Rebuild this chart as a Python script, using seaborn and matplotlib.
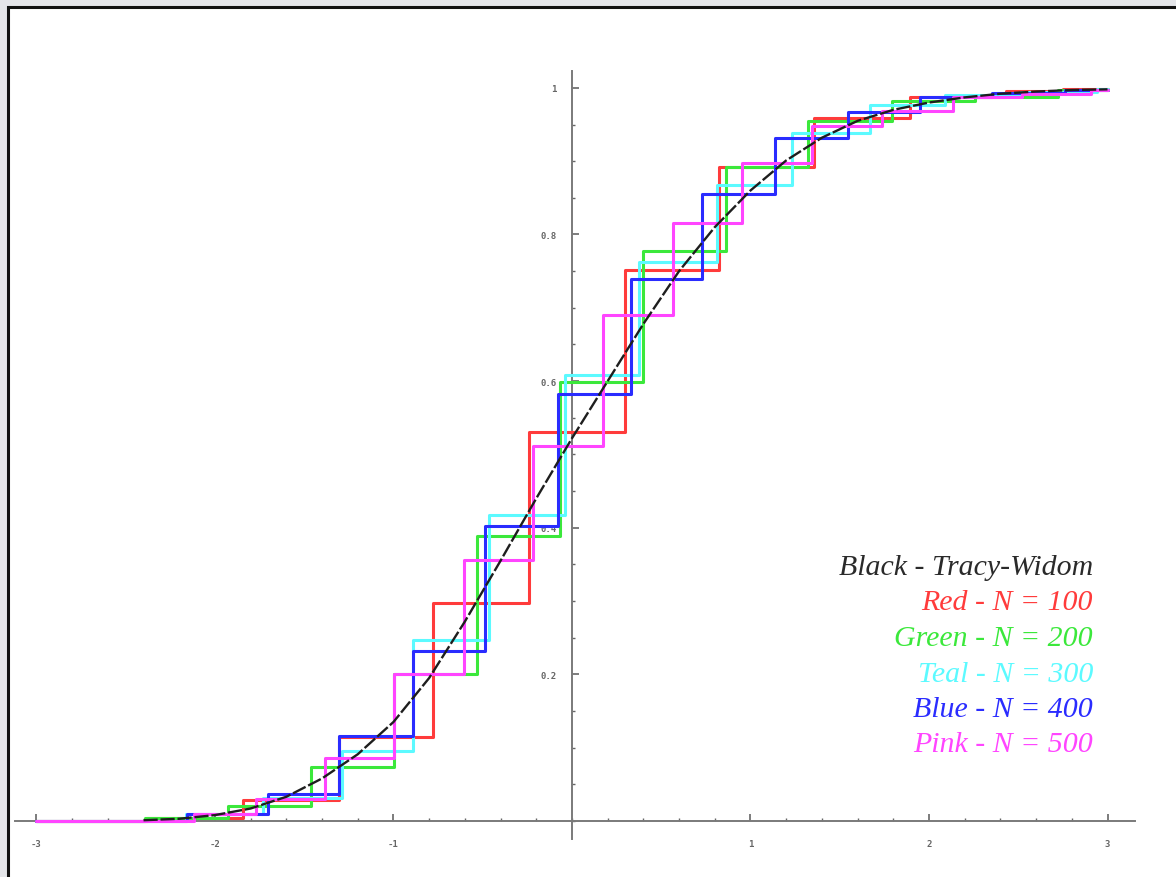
import matplotlib
matplotlib.use("Agg")
import matplotlib.pyplot as plt
from matplotlib.patches import Rectangle
from matplotlib.ticker import MultipleLocator, FixedLocator, FixedFormatter
import numpy as np
import pandas as pd
import seaborn as sns

# Empirical CDFs: jump positions and the level reached after each jump
red_x = [-2.378, -1.842, -1.305, -0.778, -0.241, 0.295, 0.822, 1.357, 1.894, 2.430, 2.750]
red_y = [0.004, 0.028, 0.115, 0.297, 0.531, 0.751, 0.892, 0.959, 0.987, 0.996, 0.998]

green_x = [-2.389, -1.925, -1.461, -0.998, -0.534, -0.067, 0.397, 0.861, 1.324, 1.791, 2.258, 2.722]
green_y = [0.004, 0.021, 0.073, 0.200, 0.389, 0.599, 0.777, 0.892, 0.955, 0.982, 0.988, 0.997]

teal_x = [-2.160, -1.732, -1.290, -0.889, -0.463, -0.039, 0.377, 0.810, 1.231, 1.669, 2.090, 2.515, 2.940]
teal_y = [0.0095, 0.032, 0.096, 0.247, 0.417, 0.609, 0.762, 0.868, 0.939, 0.976, 0.990, 0.995, 0.998]

blue_x = [-2.159, -1.705, -1.305, -0.889, -0.487, -0.080, 0.329, 0.727, 1.139, 1.544, 1.948, 2.351, 2.760]
blue_y = [0.0095, 0.037, 0.116, 0.232, 0.402, 0.582, 0.739, 0.855, 0.931, 0.967, 0.988, 0.993, 0.997]

pink_x = [-2.120, -1.770, -1.384, -0.996, -0.605, -0.217, 0.175, 0.564, 0.953, 1.343, 1.737, 2.133, 2.519, 2.905]
pink_y = [0.0095, 0.030, 0.086, 0.200, 0.356, 0.511, 0.690, 0.816, 0.898, 0.948, 0.968, 0.988, 0.992, 0.997]

# Tracy-Widom reference curve
tw_x = [-2.4, -2.2, -2.0, -1.8, -1.6, -1.4, -1.2, -1.0, -0.8, -0.6, -0.4, -0.2, 0.0,
        0.2, 0.4, 0.6, 0.8, 1.0, 1.2, 1.4, 1.6, 1.8, 2.0, 2.2, 2.4, 2.6, 2.8, 3.0]
tw_y = [0.001, 0.003, 0.008, 0.017, 0.033, 0.058, 0.091, 0.135, 0.195, 0.272, 0.355, 0.440, 0.522,
        0.600, 0.678, 0.750, 0.810, 0.860, 0.901, 0.932, 0.955, 0.970, 0.980, 0.987, 0.992, 0.995, 0.997, 0.998]

series_names = ["Red", "Green", "Teal", "Blue", "Pink"]
series_sizes = [100, 200, 300, 400, 500]
series_colors = ["#ff3b3b", "#3be83b", "#5cfaff", "#2a2cff", "#ff45ff"]
jumps = [red_x, green_x, teal_x, blue_x, pink_x]
levels = [red_y, green_y, teal_y, blue_y, pink_y]

x_major = [-3, -2, -1, 1, 2, 3]
x_labels = ["-3", "-2", "-1", "1", "2", "3"]
y_major = [0.2, 0.4, 0.6, 0.8, 1.0]
y_labels = ["0.2", "0.4", "0.6", "0.8", "1"]

rows = []
for name, xs, ys in zip(series_names, jumps, levels):
    px = [-3.0] + list(xs) + [3.0]
    py = [0.0] + list(ys) + [ys[-1]]
    for a, b in zip(px, py):
        rows.append({"x": a, "F": b, "series": name})
steps = pd.DataFrame(rows)

sns.set_theme(style="white")

W, H = 1176, 878
fig = plt.figure(figsize=(W / 100, H / 100), dpi=100)
fig.patch.set_facecolor("#e4e5e9")
frame = Rectangle((8 / W, -0.05), 1.2, (H - 8) / H + 0.05, transform=fig.transFigure,
                  facecolor="white", edgecolor="#111111", lw=2.2, zorder=-10)
fig.patches.append(frame)

ax = fig.add_axes([15 / W, 1 - 840 / H, (1135 - 15) / W, (840 - 72) / H])
ax.set_zorder(1)
ax.patch.set_alpha(0)

sns.lineplot(data=steps, x="x", y="F", hue="series", hue_order=series_names,
             palette=dict(zip(series_names, series_colors)), estimator=None,
             sort=False, drawstyle="steps-post", lw=2.2, legend=False, ax=ax, zorder=3)
sns.lineplot(x=tw_x, y=tw_y, color="#1e1e1e", lw=1.7, ax=ax, zorder=4,
             linestyle=(0, (6, 1.2)))

ax.set_xlim(-3.12, 3.154)
ax.set_ylim(-0.0246, 1.023)
ax.set_xlabel("")
ax.set_ylabel("")

for side in ["top", "right"]:
    ax.spines[side].set_visible(False)
for side in ["left", "bottom"]:
    ax.spines[side].set_position(("data", 0))
    ax.spines[side].set_color("#7a7a7a")
    ax.spines[side].set_linewidth(1.4)
    ax.spines[side].set_zorder(1)
ax.set_axisbelow(True)

ax.xaxis.set_major_locator(FixedLocator(x_major))
ax.xaxis.set_major_formatter(FixedFormatter(x_labels))
ax.xaxis.set_minor_locator(MultipleLocator(0.2))
ax.yaxis.set_major_locator(FixedLocator(y_major))
ax.yaxis.set_major_formatter(FixedFormatter(y_labels))
ax.yaxis.set_minor_locator(MultipleLocator(0.05))

ax.tick_params(axis="both", which="both", bottom=True, left=True, top=False, right=False)
ax.tick_params(axis="both", which="major", direction="in", length=5, width=1.2,
               color="#666666", labelsize=6.5, labelcolor="#666666")
ax.tick_params(axis="both", which="minor", direction="in", length=2.5, width=1.0,
               color="#666666")
ax.tick_params(axis="x", which="major", pad=13)
ax.tick_params(axis="y", which="major", pad=11)
for lab in ax.get_xticklabels() + ax.get_yticklabels():
    lab.set_family("DejaVu Sans Mono")
    lab.set_fontweight("bold")

# Caption block, right-aligned on the lower right
cap_x = 1093 / W
cap_y0 = 1 - 568 / H
dy = 35.5 / H
fig.text(cap_x, cap_y0, "Black - Tracy-Widom", ha="right", va="center",
         family="Liberation Serif", style="italic", fontsize=21.5, color="#2a2a2a")
for i, (name, n, c) in enumerate(zip(series_names, series_sizes, series_colors)):
    fig.text(cap_x, cap_y0 - (i + 1) * dy, f"{name} - N = {n}", ha="right", va="center",
             family="Liberation Serif", style="italic", fontsize=21.5, color=c)

fig.savefig("out.png", dpi=100, facecolor=fig.get_facecolor())
